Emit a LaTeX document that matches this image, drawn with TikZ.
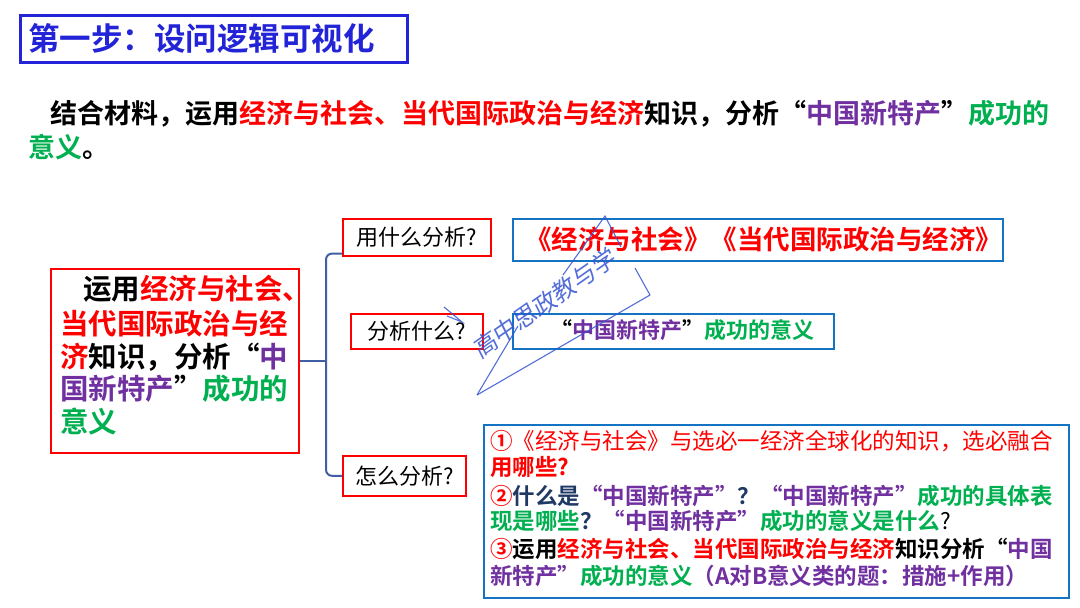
\documentclass[tikz,border=0pt]{standalone}
\usepackage{fontspec}
\setmainfont{Noto Sans CJK SC}[BoldFont={Noto Sans CJK SC Bold}]
\usetikzlibrary{calc}
\definecolor{tblue}{RGB}{35,35,215}
\definecolor{cred}{RGB}{255,0,0}
\definecolor{cpurple}{RGB}{112,48,160}
\definecolor{cgreen}{RGB}{0,176,80}
\definecolor{cnavy}{RGB}{31,56,100}
\definecolor{cblue}{RGB}{20,115,195}
\definecolor{bracec}{RGB}{65,95,165}
\definecolor{wmc}{RGB}{55,85,210}
\newcommand{\fq}[1]{{\addfontfeatures{RawFeature=+fwid}#1}}
\newcommand{\ftitle}{\fontsize{31.5}{31.5}\selectfont\bfseries}
\newcommand{\fpara}{\fontsize{27}{27}\selectfont\bfseries}
\newcommand{\fleft}{\fontsize{28.5}{28.5}\selectfont\bfseries}
\newcommand{\fsmall}{\fontsize{22}{22}\selectfont}
\newcommand{\fbone}{\fontsize{26.5}{26.5}\selectfont\bfseries}
\newcommand{\fbtwo}{\fontsize{22}{22}\selectfont\bfseries}
\newcommand{\fbthree}{\fontsize{22.5}{22.5}\selectfont\bfseries}
\begin{document}
\begin{tikzpicture}[x=1pt,y=-1pt,
  txt/.style={anchor=base west, inner sep=0pt},
  redbox/.style={draw=cred, line width=1.6pt, anchor=north west, inner sep=0pt},
  bluebox/.style={draw=cblue, line width=1.8pt, anchor=north west, inner sep=0pt},
  brace/.style={draw=bracec, line width=2pt, rounded corners=6pt},
  wm/.style={draw=wmc, line width=1.1pt, opacity=0.85}]
\useasboundingbox[fill=white] (0,0) rectangle (1080,608);

% title
\node[draw=tblue, line width=2.5pt, anchor=north west, inner sep=0pt,
      minimum width=387pt, minimum height=47pt] (titlebox) at (19,14) {};
\node[txt, font=\ftitle, text=tblue] (title) at (28,50) {第一步：设问逻辑可视化};

% paragraph
\node[txt, font=\fpara] (p1) at (50,123.3) {结合材料，运用\textcolor{cred}{经济与社会、当代国际政治与经济}知识，分析\fq{“}\textcolor{cpurple}{中国新特产}\fq{”}\textcolor{cgreen}{成功的}};
\node[txt, font=\fpara] (p2) at (28,157) {\textcolor{cgreen}{意义}。};

% left box
\node[draw=cred, line width=2pt, anchor=north west, inner sep=0pt,
      minimum width=248pt, minimum height=184pt] (left) at (50,268) {};
\node[txt, font=\fleft] (l1) at (83,299) {运用\textcolor{cred}{经济与社会、}};
\node[txt, font=\fleft] (l2) at (60,334) {\textcolor{cred}{当代国际政治与经}};
\node[txt, font=\fleft] (l3) at (60,367) {\textcolor{cred}{济}知识，分析\fq{“}\textcolor{cpurple}{中}};
\node[txt, font=\fleft] (l4) at (60,399) {\textcolor{cpurple}{国新特产}\fq{”}\textcolor{cgreen}{成功的}};
\node[txt, font=\fleft] (l5) at (60,432) {\textcolor{cgreen}{意义}};

% question boxes
\node[redbox, font=\fsmall, minimum width=148pt, minimum height=37pt] (q1) at (342,218) {用什么分析?};
\node[redbox, font=\fsmall, minimum width=132pt, minimum height=35pt] (q2) at (350,313) {分析什么?};
\node[redbox, font=\fsmall, minimum width=123pt, minimum height=40pt] (q3) at (342,455) {怎么分析?};

% answer boxes
\node[bluebox, minimum width=490pt, minimum height=42pt] (a1) at (512,218) {};
\node[txt, font=\fbone, text=cred] (a1t) at (525,249) {《经济与社会》《当代国际政治与经济》};
\node[bluebox, minimum width=321pt, minimum height=35pt] (a2) at (512,313) {};
\node[txt, font=\fbtwo] (a2t) at (550,338.5) {\fq{“}\textcolor{cpurple}{中国新特产}\fq{”}\textcolor{cgreen}{成功的意义}};
\node[bluebox, minimum width=585pt, minimum height=173pt] (a3) at (483,424) {};
\node[txt, font=\fbthree] (b1) at (490,449.6) {\textcolor{cred}{①\mdseries《经济与社会》与选必一经济全球化的知识，选必融合}};
\node[txt, font=\fbthree] (b2) at (490,475.6) {\textcolor{cred}{用哪些?}};
\node[txt, font=\fbthree] (b3) at (490,504.6) {\textcolor{cred}{②}\textcolor{cnavy}{什么是}\textcolor{cpurple}{\fq{“}中国新特产\fq{”}}\textcolor{cnavy}{？}\textcolor{cpurple}{\fq{“}中国新特产\fq{”}}\textcolor{cgreen}{成功的具体表}};
\node[txt, font=\fbthree] (b4) at (490,529.6) {\textcolor{cgreen}{现是哪些}\textcolor{cnavy}{？}\textcolor{cpurple}{\fq{“}中国新特产\fq{”}}\textcolor{cgreen}{成功的意义是什么}{\mdseries ?}};
\node[txt, font=\fbthree] (b5) at (490,557.6) {\textcolor{cred}{③}运用\textcolor{cred}{经济与社会、当代国际政治与经济}知识分析\fq{“}\textcolor{cpurple}{中国}};
\node[txt, font=\fbthree] (b6) at (490,584.6) {\textcolor{cpurple}{新特产\fq{”}}\textcolor{cgreen}{成功的意义}\textcolor{cpurple}{（A对B意义类的题：措施+作用）}};

% brace
\coordinate (bx) at (326,361);
\draw[brace] ($(q1.south west)+(0,-3)$) -| (bx) |- (q3.west);
\draw[brace] (left.east |- bx) -- (bx);

% watermark
\draw[wm] (477,395) -- (518,326);
\draw[wm] (477,395) -- (650,295) -- (635,268);
\draw[wm] (563,275) -- (605,216) -- (621,247);
\draw[wm] (444,307) -- (462,322) -- (447,316);
\node[font=\fontsize{24}{24}\selectfont, text=wmc, opacity=0.85, rotate=35, xslant=0.15, inner sep=0pt] (wmtext) at (545,303) {高中思政教与学};
\end{tikzpicture}
\end{document}
